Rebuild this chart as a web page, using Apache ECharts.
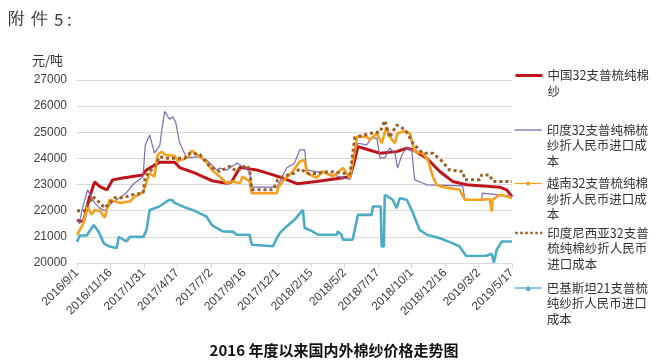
<!DOCTYPE html>
<html><head><meta charset="utf-8">
<script src="https://cdn.jsdelivr.net/npm/echarts@6/dist/echarts.min.js"></script>
<style>html,body{margin:0;padding:0;background:#fff}#c{width:664px;height:364px}</style>
</head><body><div id="c"></div>
<script>
// x values are days since 2016/9/1; y values in 元/吨
const tickLabels = ['2016/9/1','2016/11/16','2017/1/31','2017/4/17','2017/7/2','2017/9/16','2017/12/1','2018/2/15','2018/5/2','2018/7/17','2018/10/1','2018/12/16','2019/3/2','2019/5/17'];
const seriesNames = ['中国32支普梳纯棉纱','印度32支普纯棉梳纱折人民币进口成本','越南32支普梳纯棉纱折人民币进口成本','印度尼西亚32支普梳纯棉纱折人民币进口成本','巴基斯坦21支普梳纯纱折人民币进口成本'];
const legendLines = [
  ['中国32支普梳纯棉','纱'],
  ['印度32支普纯棉梳','纱折人民币进口成','本'],
  ['越南32支普梳纯棉','纱折人民币进口成','本'],
  ['印度尼西亚32支普','梳纯棉纱折人民币','进口成本'],
  ['巴基斯坦21支普梳','纯纱折人民币进口','成本']
];
const chinaData = [[0,21650],[6,21600],[15,21600],[28,22500],[40,23100],[52,22920],[68,22800],[81,23180],[104,23250],[149,23370],[157,23550],[176,23750],[188,23850],[222,23850],[233,23650],[267,23450],[306,23150],[340,23050],[351,23100],[370,23650],[392,23600],[408,23560],[445,23370],[467,23250],[501,23030],[544,23120],[597,23240],[620,23300],[631,23940],[638,24450],[658,24350],[688,24200],[726,24260],[749,24390],[763,24330],[795,24000],[824,23500],[853,23120],[885,22990],[921,22950],[960,22900],[976,22800],[988,22540]];
const indiaData = [[0,21650],[6,21500],[11,22000],[24,22800],[33,22500],[40,22300],[52,22100],[63,22000],[79,22300],[97,22500],[113,22700],[127,23000],[142,23200],[150,23300],[155,24500],[165,24900],[176,24200],[188,24500],[192,25000],[199,25800],[210,25500],[217,25600],[224,25400],[233,24600],[249,24020],[279,24070],[294,23950],[317,23560],[324,23630],[340,23560],[363,23820],[376,23690],[392,23500],[397,22900],[454,22900],[461,23120],[476,23630],[494,23820],[506,24330],[517,24330],[522,23560],[574,23400],[620,23200],[626,24020],[638,24580],[658,24520],[669,24780],[681,24780],[688,24020],[699,24020],[710,24400],[722,24200],[728,23630],[738,24140],[749,24400],[760,24330],[767,23180],[785,23060],[795,22990],[876,22950],[881,22420],[919,22420],[921,22670],[988,22550]];
const vietnamData = [[0,21080],[13,21460],[24,22160],[33,21850],[40,22030],[52,22000],[63,21730],[74,22420],[97,22300],[120,22350],[131,22540],[150,22700],[165,23440],[176,23300],[183,24130],[192,24260],[201,24130],[222,24100],[229,23900],[245,24000],[256,24130],[260,24300],[279,24070],[294,23880],[306,23560],[324,23310],[340,23050],[354,23120],[370,23050],[376,23310],[392,23120],[397,22670],[454,22670],[456,22860],[467,23120],[490,23500],[506,23880],[517,23940],[522,23440],[544,23260],[558,23500],[581,23310],[604,23630],[620,23240],[626,23820],[636,24830],[658,24830],[665,24710],[681,24960],[692,24580],[703,25210],[710,24830],[722,24580],[728,24960],[745,25050],[756,24960],[767,24260],[785,24200],[797,23940],[808,23310],[817,22990],[828,22920],[869,22800],[881,22420],[921,22420],[937,22450],[942,21970],[944,22420],[960,22610],[976,22540],[988,22480]];
const indonesiaData = [[0,22000],[17,22000],[36,22540],[52,22300],[63,22100],[74,22300],[86,22500],[108,22500],[120,22600],[150,22670],[155,23300],[176,23700],[188,24070],[199,24010],[245,24010],[256,24200],[279,24150],[301,23700],[324,23500],[347,23700],[363,23500],[385,23750],[392,23560],[397,22800],[445,22800],[456,23180],[467,23310],[494,23440],[506,23600],[529,23400],[574,23500],[620,23400],[631,24800],[676,25000],[688,25000],[699,25450],[710,24800],[726,25280],[745,25100],[763,24580],[785,24200],[808,24200],[830,23880],[846,23560],[876,23500],[881,23180],[915,23180],[919,23370],[937,23370],[944,23120],[988,23120]];
const pakistanData = [[0,20800],[6,21050],[22,21050],[38,21450],[49,21200],[61,20750],[74,20630],[90,20570],[95,21000],[106,20880],[113,20830],[120,21000],[151,21000],[158,21270],[165,22030],[186,22150],[208,22400],[215,22420],[222,22300],[249,22100],[263,22030],[279,21900],[294,21780],[306,21460],[317,21340],[331,21210],[354,21200],[363,21080],[392,21080],[397,20700],[445,20640],[454,20950],[461,21150],[476,21400],[494,21650],[513,22030],[517,21350],[535,21210],[547,21080],[590,21080],[592,21200],[601,21080],[604,20890],[626,20890],[638,21840],[669,21840],[672,22160],[690,22160],[692,20630],[697,20630],[699,22600],[706,22540],[717,22420],[726,22100],[733,22480],[749,22420],[763,21910],[778,21270],[795,21080],[824,20950],[853,20760],[869,20630],[884,20270],[930,20280],[942,20350],[947,20020],[953,20500],[965,20820],[988,20820]];

const colors = ['#c0141b','#7a6db6','#f5a01e','#9c5d29','#4bacc6'];
const dataList = [chinaData, indiaData, vietnamData, indonesiaData, pakistanData];
const lineStyles = [
  {width: 3, type: 'solid'},
  {width: 1.2, type: 'solid'},
  {width: 2.6, type: 'solid'},
  {width: 3, type: [3, 3]},
  {width: 2.6, type: 'solid'}
];
const symbols = ['none','none','circle','none','triangle'];

const chart = echarts.init(document.getElementById('c'), null, {renderer: 'canvas'});
const series = dataList.map((d, i) => ({
  name: seriesNames[i], type: 'line', data: d,
  symbol: symbols[i], showSymbol: false, symbolSize: 4,
  lineStyle: Object.assign({color: colors[i]}, lineStyles[i]),
  itemStyle: {color: colors[i]},
  emphasis: {disabled: true}, animation: false, z: 2 + i
}));

const L = 15.5;
const iconY = [75.5, 130, 183.5, 233, 288];
const legends = legendLines.map((lines, i) => {
  const n = lines.length;
  const text = '\n'.repeat(n - 1) + lines.join('\n');
  const total = (2 * n - 1) * L;
  return {
    left: 514, top: iconY[i] - total / 2, padding: 0,
    data: [{name: seriesNames[i],
      itemStyle: (symbols[i] === 'none') ? {opacity: 0} : {color: colors[i]},
      lineStyle: {width: i === 0 ? 3 : (i === 3 ? 2.5 : 1.3), color: colors[i], type: i === 3 ? [2.5, 2.5] : 'solid'}
    }],
    itemWidth: 27, itemHeight: i === 4 ? 7 : 5, itemGap: 0,
    formatter: () => text,
    selectedMode: false,
    textStyle: {fontSize: 12.5, lineHeight: L, color: '#333', fontFamily: 'Noto Sans CJK SC'}
  };
});

chart.setOption({
  animation: false,
  backgroundColor: '#fff',
  title: {text: '2016 年度以来国内外棉纱价格走势图', left: 329, top: 338, textAlign: 'center',
    textStyle: {fontSize: 15, fontWeight: 'bold', color: '#111', fontFamily: 'Noto Sans CJK SC'}},
  graphic: [
    {type: 'text', left: 8, top: 11, style: {text: '附', fontSize: 17, fill: '#3a3a3a', font: '17px "Noto Sans CJK SC"'}},
    {type: 'text', left: 31, top: 11, style: {text: '件', fontSize: 17, fill: '#3a3a3a', font: '17px "Noto Sans CJK SC"'}},
    {type: 'text', left: 54, top: 11, style: {text: '5', fill: '#3a3a3a', font: '17px "Noto Sans CJK SC"'}},
    {type: 'text', left: 67, top: 11, style: {text: ':', fill: '#3a3a3a', font: '17px "Noto Sans CJK SC"'}}
  ],
  legend: legends,
  grid: {left: 77, right: 152, top: 80, bottom: 101, containLabel: false},
  xAxis: {
    type: 'value', min: 0, max: 988, interval: 76,
    axisLine: {show: true, lineStyle: {color: '#d9d9d9'}},
    axisTick: {show: true, length: 5, lineStyle: {color: '#d9d9d9'}},
    splitLine: {show: false},
    axisLabel: {rotate: 45, margin: 8, fontSize: 12, color: '#404040', fontFamily: 'Liberation Sans',
      showMinLabel: true, showMaxLabel: true,
      formatter: v => tickLabels[Math.round(v / 76)] || ''}
  },
  yAxis: {
    type: 'value', min: 20000, max: 27000, interval: 1000,
    name: '元/吨', nameLocation: 'end', nameGap: 13,
    nameTextStyle: {align: 'right', verticalAlign: 'bottom', padding: [0, 14, 0, 0], fontSize: 13, color: '#333', fontFamily: 'Noto Sans CJK SC'},
    axisLine: {show: false}, axisTick: {show: false},
    splitLine: {lineStyle: {color: '#d9d9d9', width: 1}},
    axisLabel: {margin: 10, fontSize: 12, color: '#404040', fontFamily: 'Liberation Sans', formatter: v => String(v)}
  },
  series: series
});
</script></body></html>
